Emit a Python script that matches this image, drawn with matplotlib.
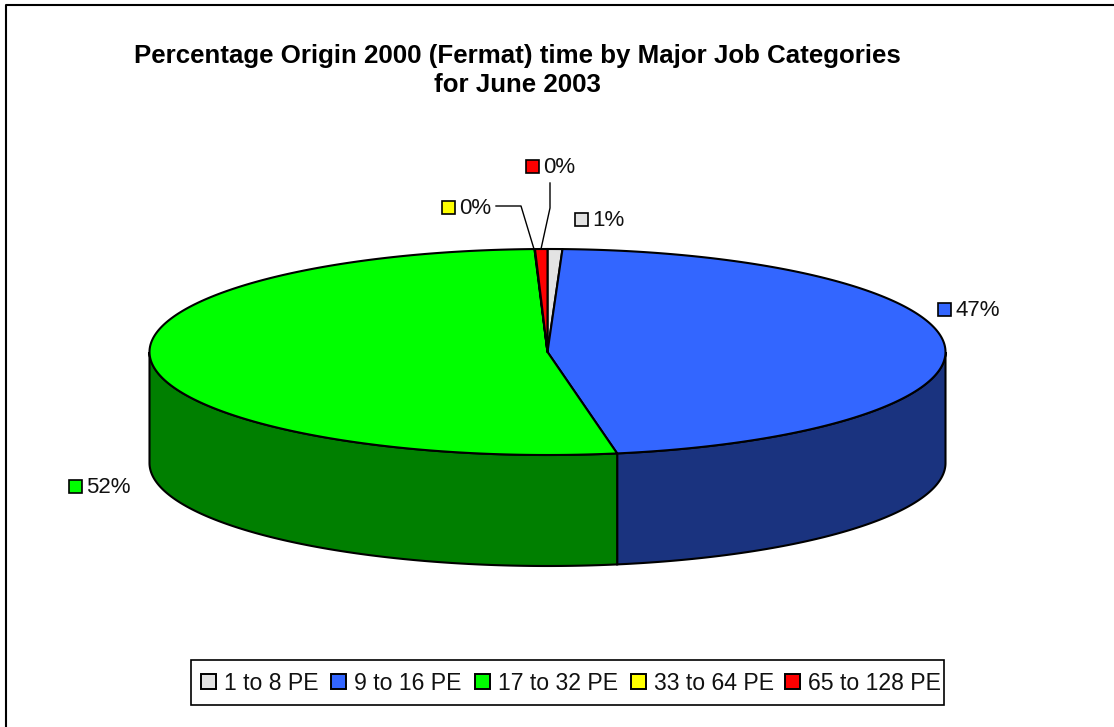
import numpy as np
import matplotlib
matplotlib.use("Agg")
import matplotlib.pyplot as plt
from matplotlib.patches import Polygon, Rectangle

plt.rcParams["font.family"] = ["Liberation Sans", "DejaVu Sans"]

# Chart data
categories = ["1 to 8 PE", "9 to 16 PE", "17 to 32 PE", "33 to 64 PE", "65 to 128 PE"]
shares = [0.6, 46.6, 52.28, 0.02, 0.5]
labels = ["1%", "47%", "52%", "0%", "0%"]
colors = ["#E3E3E3", "#3366FF", "#00FF00", "#FFFF00", "#FF0000"]
side_colors = ["#8C8C8C", "#1A337F", "#007F00", "#7F7F00", "#7F0000"]
title_lines = ["Percentage Origin 2000 (Fermat) time by Major Job Categories", "for June 2003"]

W, H = 1114, 727
cx, cy = 547.5, 352
rx, ry = 398, 103
depth = 111


def rim(a0, a1):
    t = np.radians(np.linspace(a0, a1, 200))
    return np.column_stack([cx + rx * np.sin(t), cy - ry * np.cos(t)])


fig = plt.figure(figsize=(W / 100, H / 100), dpi=100)
ax = fig.add_axes([0, 0, 1, 1])
ax.set_xlim(0, W)
ax.set_ylim(H, 0)
ax.axis("off")

# outer frame, only top and left are visible
ax.plot([5.5, 5.5, W], [H, 4.5, 4.5], color="black", lw=1.5)

ax.text(517, 55.5, title_lines[0], ha="center", va="center", fontsize=18.66, fontweight="bold")
ax.text(517, 84.5, title_lines[1], ha="center", va="center", fontsize=18.66, fontweight="bold")

# slices, clockwise from 12 o'clock
edges = np.cumsum([0] + shares) * 3.6
for i in range(len(shares)):
    # the visible side wall is only the part in front (90 to 270 deg)
    a0, a1 = max(edges[i], 90), min(edges[i + 1], 270)
    if a1 > a0:
        top = rim(a0, a1)
        bottom = top[::-1] + [0, depth]
        ax.add_patch(Polygon(np.vstack([top, bottom]), closed=True, fc=side_colors[i], ec="black", lw=1.5))
for i in range(len(shares)):
    pts = np.vstack([[cx, cy], rim(edges[i], edges[i + 1])])
    ax.add_patch(Polygon(pts, closed=True, fc=colors[i], ec="black", lw=1.5, joinstyle="round"))

# data labels: key square + value
label_pos = [(575, 213), (938, 303), (69, 480), (442, 201), (526, 160)]
for (x, y), lab, col in zip(label_pos, labels, colors):
    ax.add_patch(Rectangle((x, y), 12.5, 12.5, fc=col, ec="black", lw=1.2))
    ax.text(x + 17, y + 7.5, lab, ha="left", va="center", fontsize=16, color="#111111")

# leader lines
ax.plot([496, 521, 534], [206, 206, 249], color="black", lw=1)
ax.plot([550, 550, 541], [183, 208, 249], color="black", lw=1)

# legend
ax.add_patch(Rectangle((190.5, 660), 753.5, 45, fc="white", ec="black", lw=1.2))
legend_x = [201, 331, 475, 631, 785]
for x, name, col in zip(legend_x, categories, colors):
    ax.add_patch(Rectangle((x, 674), 15, 15, fc=col, ec="black", lw=1.4))
    ax.text(x + 23, 683.5, name, ha="left", va="center", fontsize=16.6, color="#111111")

fig.savefig("out.png", dpi=100)
